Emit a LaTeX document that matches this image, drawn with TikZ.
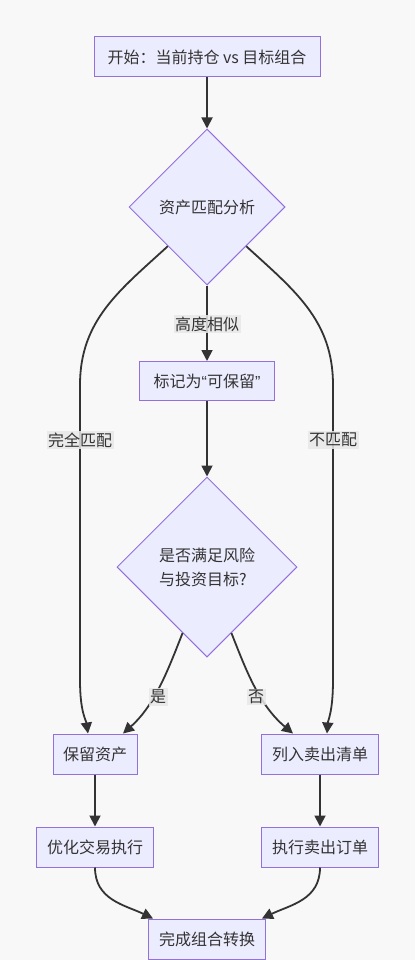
\documentclass[tikz,border=0pt]{standalone}
\usepackage{fontspec}
\setmainfont{Noto Sans CJK SC}
\newfontfamily\latinq{Liberation Sans}
\usetikzlibrary{shapes.geometric,arrows.meta,calc}
\definecolor{bgc}{HTML}{F8F8F8}
\definecolor{nodefill}{HTML}{ECECFF}
\definecolor{nodeline}{HTML}{9370DB}
\definecolor{edgec}{HTML}{333333}
\definecolor{lblbg}{HTML}{E8E8E8}
\begin{document}
\begin{tikzpicture}[x=1pt,y=-1pt,
  every node/.style={font=\fontsize{16}{24}\selectfont, text=edgec},
  box/.style={draw=nodeline, fill=nodefill, line width=1pt, minimum height=40pt, inner xsep=10pt, inner ysep=0pt},
  dia/.style={draw=nodeline, fill=nodefill, line width=1pt, diamond, aspect=1, inner sep=0pt},
  lbl/.style={fill=lblbg, fill opacity=0.85, text opacity=1, inner sep=1.5pt},
  conn/.style={draw=edgec, line width=1.8pt, -{Triangle[length=11pt,width=11pt]}}
]
\path[fill=bgc] (0,0) rectangle (415,960);
\node[box, minimum width=226pt] (start) at (207,57) {开始：当前持仓 vs 目标组合};
\node[dia, minimum width=156pt, minimum height=156pt] (d1) at (207,207) {资产匹配分析};
\node[box, minimum width=135pt, minimum height=39pt] (mark) at (207,381) {标记为{\latinq “}可保留{\latinq ”}};
\node[dia, minimum width=180pt, minimum height=180pt, align=left] (d2) at (207,567) {是否满足风险\\与投资目标?};
\node[box, minimum width=84pt] (keep) at (95,754) {保留资产};
\node[box, minimum width=117pt] (sell) at (320,754) {列入卖出清单};
\node[box, minimum width=117pt] (opt) at (95,847) {优化交易执行};
\node[box, minimum width=117pt] (exec) at (320,847) {执行卖出订单};
\node[box, minimum width=117pt] (done) at (207,939) {完成组合转换};

\coordinate (d2l) at ($(d2.south)!0.27!(d2.west)$);
\coordinate (d2r) at ($(d2.south)!0.27!(d2.east)$);

\draw[conn] (start.south) -- (d1.north);
\draw[conn] (d1.south) -- (mark.north);
\node[lbl] (l1) at (207,324) {高度相似};

\draw[conn] (d1.south west) .. controls (120,290) and (80,320) .. (80,385) -- (80,680) .. controls (80,712) and (86,720) .. ([xshift=-7pt]keep.north);
\node[lbl] (l2) at (80,440) {完全匹配};

\draw[conn] (d1.south east) .. controls (294,290) and (333,320) .. (333,385) -- (333,680) .. controls (333,712) and (328,720) .. ([xshift=7pt]sell.north);
\node[lbl] (l3) at (333,440) {不匹配};

\draw[conn] (mark.south) -- (d2.north);

\draw[conn] (d2l) .. controls (168,670) and (155,705) .. ([xshift=28pt]keep.north);
\node[lbl] (l4) at (158,697) {是};
\draw[conn] (d2r) .. controls (246,670) and (259,705) .. ([xshift=-27pt]sell.north);
\node[lbl] (l5) at (256,697) {否};

\draw[conn] (keep.south) -- (opt.north);
\draw[conn] (sell.south) -- (exec.north);

\draw[conn] (opt.south) .. controls (95,900) and (125,905) .. ([xshift=-54pt]done.north);
\draw[conn] (exec.south) .. controls (320,900) and (290,905) .. ([xshift=55pt]done.north);
\end{tikzpicture}
\end{document}
